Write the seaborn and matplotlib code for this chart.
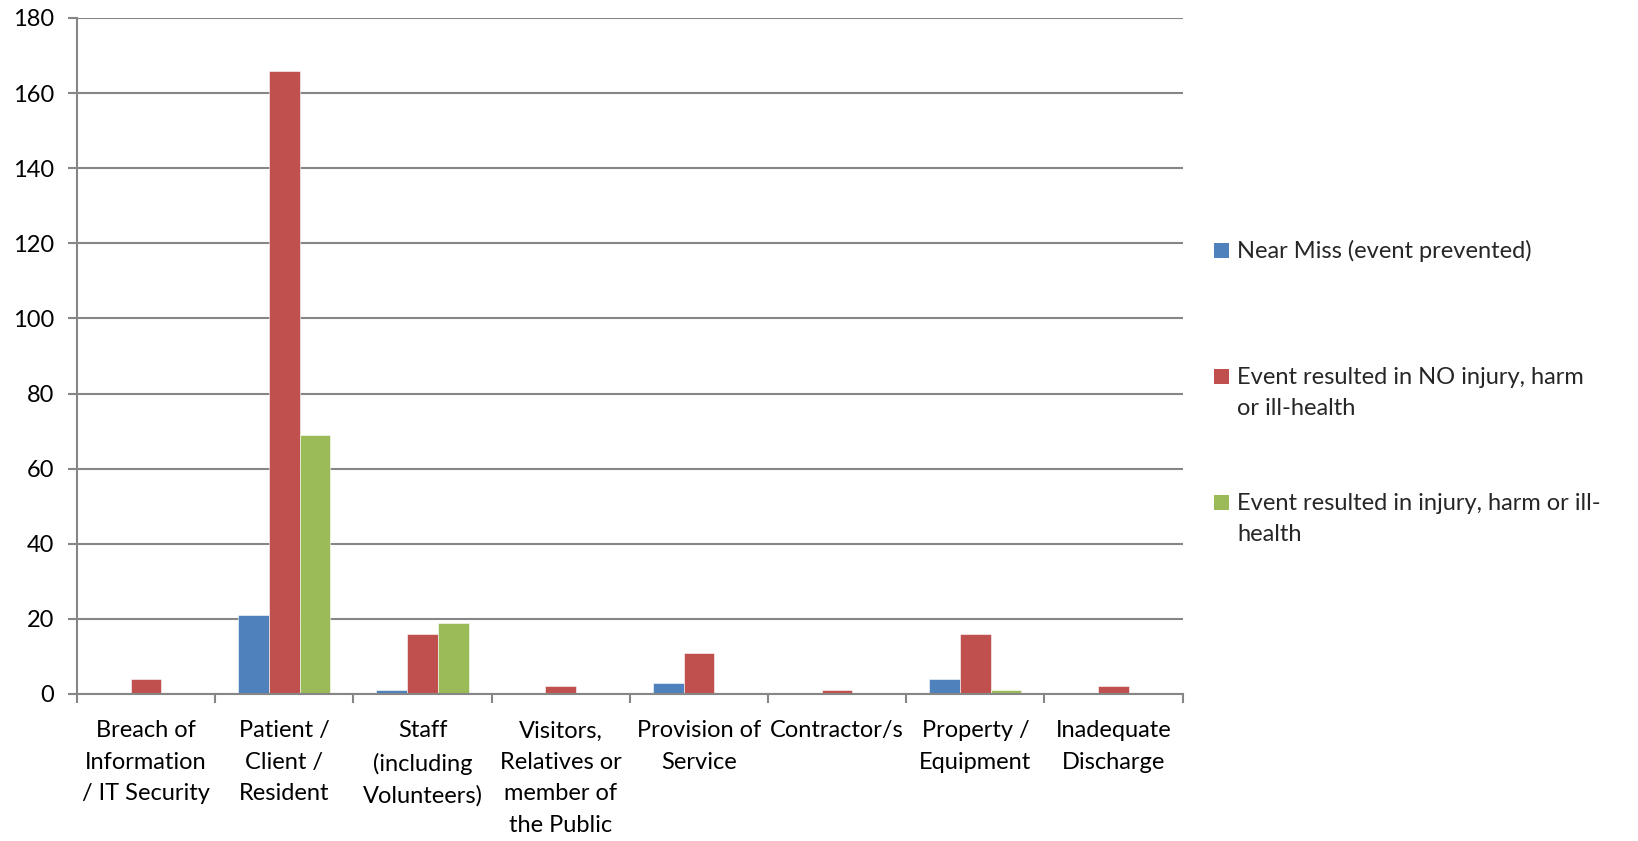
import matplotlib
matplotlib.use("Agg")
import matplotlib.pyplot as plt
import seaborn as sns
import pandas as pd

categories = [
    "Breach of\nInformation\n/ IT Security",
    "Patient /\nClient /\nResident",
    "Staff\n(including\nVolunteers)",
    "Visitors,\nRelatives or\nmember of\nthe Public",
    "Provision of\nService",
    "Contractor/s",
    "Property /\nEquipment",
    "Inadequate\nDischarge",
]
series = [
    "Near Miss (event prevented)",
    "Event resulted in NO injury, harm or ill-health",
    "Event resulted in injury, harm or ill-health",
]
legend_labels = [
    "Near Miss (event prevented)\n",
    "Event resulted in NO injury, harm\nor ill-health",
    "Event resulted in injury, harm or ill-\nhealth",
]
near_miss = [0, 21, 1, 0, 3, 0, 4, 0]
no_injury = [4, 166, 16, 2, 11, 1, 16, 2]
injury = [0, 69, 19, 0, 0, 0, 1, 0]
colors = ["#4F81BD", "#C0504D", "#9BBB59"]
yticks = [0, 20, 40, 60, 80, 100, 120, 140, 160, 180]

rows = []
for s, vals in zip(series, [near_miss, no_injury, injury]):
    for c, v in zip(categories, vals):
        rows.append({"cat": c, "series": s, "value": v})
df = pd.DataFrame(rows)

sns.set_style("white")
FONT = "Lato"
plt.rcParams["font.family"] = [FONT, "DejaVu Sans"]
FS = 17
LS = 1.62

fig = plt.figure(figsize=(16.38, 8.41), dpi=100)
ax = fig.add_axes([0.047, 0.1748, 0.675, 0.8038])

sns.barplot(data=df, x="cat", y="value", hue="series", order=categories,
            hue_order=series, palette=colors, width=0.667, ax=ax,
            saturation=1, edgecolor="white", linewidth=0.4, errorbar=None)

GRID = "#868686"
ax.set_ylim(0, 180)
ax.set_xlim(-0.5, len(categories) - 0.5)
ax.set_yticks(yticks)
ax.set_yticklabels([str(t) for t in yticks], fontsize=FS, color="black")
ax.yaxis.grid(True, color=GRID, linewidth=1.5)
ax.set_axisbelow(True)
ax.tick_params(axis="y", length=6.5, width=1.5, color=GRID, pad=10, left=True)

ax.set_xticks(range(len(categories)))
ax.set_xticklabels(categories, fontsize=FS, color="black", linespacing=LS,
                   va="top")
ax.tick_params(axis="x", which="major", length=0, pad=19)
ax.set_xticks([i - 0.5 for i in range(len(categories) + 1)], minor=True)
ax.tick_params(axis="x", which="minor", length=6.5, width=1.5, color=GRID,
               bottom=True)

for side in ["top", "right"]:
    ax.spines[side].set_visible(False)
for side in ["left", "bottom"]:
    ax.spines[side].set_color(GRID)
    ax.spines[side].set_linewidth(1.5)

ax.set_xlabel("")
ax.set_ylabel("")

handles, labels = ax.get_legend_handles_labels()
if ax.get_legend() is not None:
    ax.get_legend().remove()
leg = fig.legend(handles, legend_labels, loc="upper left",
                 bbox_to_anchor=(1214 / 1638, 1 - 240 / 841),
                 frameon=False, fontsize=FS, handlelength=0.64,
                 handleheight=0.64, handletextpad=0.35, labelspacing=3.1,
                 borderpad=0, borderaxespad=0)
for t in leg.get_texts():
    t.set_linespacing(LS)
for h in leg.legend_handles:
    h.set_y(h.get_y() + 12.0)
    h.set_edgecolor("none")

fig.savefig("out.png", dpi=100)
